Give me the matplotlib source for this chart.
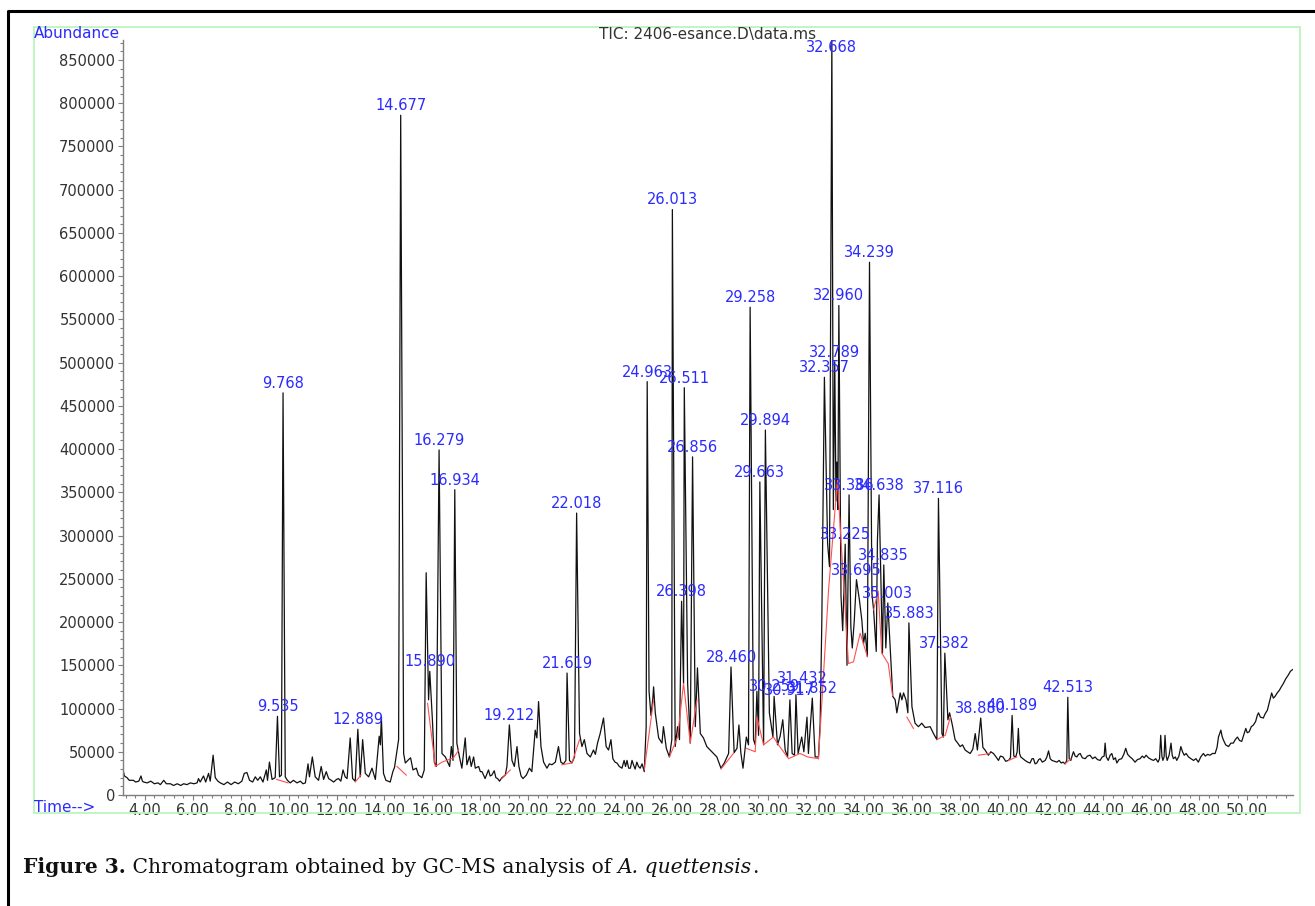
import matplotlib
matplotlib.use("Agg")
import matplotlib.pyplot as plt
from matplotlib.ticker import MultipleLocator, FuncFormatter
from matplotlib.lines import Line2D
from matplotlib.patches import Rectangle

# TIC trace: (retention time in min, abundance in thousands)
trace_early = [
    (3.09, 29), (3.15, 22), (3.26, 20), (3.35, 17), (3.52, 17), (3.62, 15), (3.75, 16), (3.84, 22),
    (3.90, 16), (3.95, 15), (4.10, 14), (4.25, 16), (4.40, 13), (4.55, 14), (4.65, 12), (4.79, 17),
    (4.90, 13), (5.07, 13), (5.20, 11), (5.35, 13), (5.50, 11), (5.62, 13), (5.76, 12), (5.90, 14),
    (6.05, 13), (6.18, 14), (6.24, 19), (6.31, 15), (6.45, 22), (6.54, 15), (6.66, 25), (6.73, 16),
    (6.85, 46), (6.94, 20), (7.05, 16), (7.15, 14), (7.30, 12), (7.45, 15), (7.60, 12), (7.75, 15),
    (7.90, 13), (8.05, 16), (8.15, 25), (8.26, 26), (8.37, 17), (8.50, 15), (8.61, 21), (8.71, 17),
    (8.82, 21), (8.93, 15), (9.07, 29), (9.12, 17), (9.20, 38), (9.31, 18), (9.44, 20), (9.535, 91),
    (9.62, 21), (9.70, 23), (9.768, 465), (9.86, 21), (9.95, 17), (10.07, 14), (10.20, 17),
    (10.35, 14), (10.49, 16), (10.60, 13), (10.70, 14), (10.81, 36), (10.87, 21), (10.99, 44),
    (11.11, 21), (11.25, 17), (11.36, 33), (11.46, 18), (11.57, 27), (11.67, 19), (11.78, 17),
    (11.88, 15), (12.00, 18), (12.08, 19), (12.18, 16), (12.27, 29), (12.36, 21), (12.44, 19),
    (12.57, 66), (12.67, 19), (12.78, 16), (12.889, 76), (12.99, 21), (13.09, 64), (13.20, 25),
    (13.34, 21), (13.48, 31), (13.62, 18), (13.78, 68), (13.83, 58), (13.87, 90), (13.96, 25),
    (14.06, 17),
]
trace_mid = [
    (14.15, 16), (14.24, 15), (14.35, 27), (14.42, 32), (14.49, 45), (14.59, 64), (14.677, 786),
    (14.80, 48), (14.87, 37), (15.01, 41), (15.09, 43), (15.19, 29), (15.33, 31), (15.42, 23),
    (15.56, 20), (15.66, 29), (15.74, 257), (15.84, 110), (15.89, 143), (16.00, 87), (16.08, 38),
    (16.16, 33), (16.279, 399), (16.40, 48), (16.54, 44), (16.72, 33), (16.79, 56), (16.86, 40),
    (16.934, 353), (17.02, 60), (17.13, 44), (17.23, 31), (17.37, 66), (17.44, 35), (17.55, 45),
    (17.62, 33), (17.72, 44), (17.79, 31), (17.93, 33), (18.00, 27), (18.07, 27), (18.20, 19),
    (18.34, 29), (18.41, 22), (18.48, 23), (18.58, 28), (18.65, 20), (18.72, 19), (18.80, 16),
    (18.90, 20), (19.04, 23), (19.11, 33), (19.212, 81), (19.32, 40), (19.42, 33), (19.53, 56),
    (19.61, 33), (19.70, 22), (19.78, 19), (19.92, 23), (20.05, 31), (20.15, 27), (20.29, 75),
    (20.36, 66), (20.43, 108), (20.53, 56), (20.64, 38), (20.78, 31), (20.88, 36), (20.99, 35),
    (21.13, 38), (21.26, 56), (21.36, 38), (21.47, 36), (21.57, 40), (21.619, 141), (21.72, 40),
    (21.82, 37), (21.93, 44), (22.018, 326), (22.14, 71), (22.24, 56), (22.34, 64), (22.45, 48),
    (22.59, 44), (22.72, 52), (22.80, 47), (22.89, 60), (23.00, 71), (23.14, 89), (23.25, 56),
    (23.35, 52), (23.45, 64), (23.53, 42), (23.62, 38), (23.70, 37), (23.80, 33), (23.91, 31),
    (24.00, 40), (24.06, 33), (24.12, 40), (24.19, 31), (24.26, 31), (24.33, 40), (24.39, 35),
    (24.46, 30), (24.53, 38), (24.60, 33), (24.67, 31), (24.75, 36), (24.84, 27),
]
trace_late = [
    (24.92, 79), (24.963, 478), (25.04, 120), (25.12, 92), (25.20, 112), (25.23, 125), (25.30, 95),
    (25.44, 66), (25.58, 60),
    (25.64, 79), (25.76, 54), (25.89, 44), (25.99, 64), (26.013, 677), (26.13, 56), (26.23, 79),
    (26.31, 64), (26.398, 224), (26.48, 129), (26.511, 471), (26.65, 129), (26.76, 60),
    (26.856, 391), (26.97, 79), (27.06, 147), (27.18, 71), (27.31, 66), (27.45, 56), (27.59, 52),
    (27.73, 48), (27.87, 44), (27.95, 38), (28.04, 31), (28.18, 37), (28.36, 48), (28.46, 148),
    (28.59, 49), (28.71, 54), (28.79, 81), (28.87, 49), (28.96, 31), (29.10, 67), (29.19, 58),
    (29.258, 564), (29.40, 64), (29.47, 58), (29.54, 120), (29.61, 69), (29.663, 362), (29.82, 58),
    (29.894, 422), (30.06, 95), (30.21, 67), (30.259, 114), (30.40, 58), (30.51, 68), (30.62, 87),
    (30.72, 52), (30.82, 44), (30.917, 110), (31.01, 48), (31.11, 46), (31.17, 116), (31.26, 48),
    (31.41, 67), (31.50, 50), (31.63, 90), (31.69, 48), (31.852, 112), (31.97, 44), (32.11, 44),
    (32.18, 83), (32.25, 202), (32.30, 330), (32.357, 483), (32.49, 291), (32.57, 264),
    (32.668, 873), (32.73, 330), (32.789, 501), (32.84, 340), (32.88, 385), (32.92, 330),
    (32.96, 566), (33.05, 230), (33.12, 190), (33.225, 290), (33.30, 150), (33.386, 347),
    (33.46, 195), (33.52, 170), (33.60, 200), (33.695, 249), (33.82, 225), (33.92, 202),
    (33.99, 175), (34.06, 187), (34.15, 160), (34.239, 616), (34.34, 233), (34.41, 214),
    (34.52, 166), (34.57, 295), (34.638, 347), (34.72, 241), (34.78, 164), (34.835, 266),
    (34.92, 170), (35.003, 222), (35.13, 156), (35.21, 114), (35.31, 110), (35.38, 95),
    (35.52, 118), (35.59, 110), (35.66, 118), (35.76, 110), (35.84, 95), (35.883, 199),
    (36.01, 102), (36.14, 83), (36.28, 79), (36.42, 83), (36.56, 78), (36.77, 79), (36.91, 71),
    (37.05, 64), (37.116, 343), (37.26, 71), (37.32, 67), (37.382, 164), (37.51, 87), (37.58, 95),
    (37.68, 83), (37.81, 64), (37.92, 60), (38.02, 56), (38.12, 58), (38.23, 52), (38.33, 50),
    (38.44, 48), (38.55, 53), (38.65, 71), (38.74, 52), (38.88, 89), (38.97, 55),
]
trace_tail = [
    (39.06, 52), (39.20, 46), (39.30, 50), (39.41, 48), (39.52, 44), (39.62, 40), (39.70, 45),
    (39.81, 44), (39.92, 39), (40.04, 40), (40.12, 43), (40.189, 92), (40.26, 45), (40.34, 44),
    (40.40, 50), (40.45, 77), (40.50, 48), (40.55, 44), (40.64, 42), (40.73, 40), (40.84, 38),
    (40.94, 37), (41.02, 42), (41.08, 42), (41.15, 36), (41.22, 37), (41.30, 41), (41.36, 42),
    (41.45, 38), (41.57, 40), (41.64, 44), (41.71, 51), (41.78, 42), (41.85, 40), (41.95, 39),
    (42.06, 38), (42.15, 40), (42.24, 37), (42.32, 38), (42.40, 36), (42.47, 40), (42.513, 113),
    (42.57, 42), (42.64, 40), (42.70, 46), (42.75, 50), (42.82, 45), (42.89, 44), (42.96, 47),
    (43.03, 48), (43.12, 43), (43.24, 42), (43.33, 45), (43.44, 46), (43.55, 42), (43.65, 44),
    (43.75, 41), (43.86, 40), (43.95, 44), (44.03, 45), (44.07, 60), (44.12, 44), (44.20, 40),
    (44.28, 46), (44.35, 48), (44.42, 41), (44.50, 43), (44.56, 37), (44.65, 41), (44.76, 42),
    (44.85, 47), (44.93, 54), (45.01, 47), (45.11, 44), (45.20, 42), (45.32, 38), (45.42, 41),
    (45.53, 42), (45.62, 45), (45.70, 43), (45.78, 46), (45.88, 43), (46.00, 41), (46.09, 40),
    (46.18, 42), (46.28, 38), (46.34, 42), (46.39, 69), (46.44, 45), (46.48, 40), (46.53, 44),
    (46.57, 69), (46.62, 45), (46.66, 40), (46.74, 46), (46.82, 60), (46.87, 46), (46.92, 42),
    (47.00, 44), (47.06, 40), (47.15, 45), (47.23, 56), (47.30, 50), (47.37, 46), (47.45, 48),
    (47.55, 44), (47.65, 42), (47.76, 40), (47.86, 42), (47.96, 38), (48.06, 44), (48.17, 48),
    (48.25, 45), (48.35, 47), (48.45, 46), (48.55, 48), (48.66, 48), (48.74, 55), (48.80, 67),
    (48.90, 75), (48.95, 68), (49.00, 64), (49.10, 58), (49.22, 56), (49.32, 60), (49.42, 60),
    (49.50, 64), (49.59, 67), (49.68, 63), (49.77, 62), (49.86, 70), (49.94, 77), (50.00, 72),
    (50.08, 73), (50.17, 79), (50.26, 81), (50.35, 85), (50.42, 92), (50.47, 95), (50.55, 90),
    (50.67, 89), (50.75, 94), (50.84, 98), (50.93, 108), (51.02, 118), (51.09, 112), (51.16, 114),
    (51.25, 118), (51.34, 121), (51.42, 125), (51.51, 129), (51.60, 134), (51.72, 139),
    (51.80, 143), (51.89, 145),
]

# integration baselines (red)
baseline_segments = [
    [(9.50, 18), (9.98, 14)],
    [(12.78, 15), (13.02, 23)],
    [(14.52, 33), (14.91, 23)],
    [(15.80, 106), (16.12, 33), (16.40, 38), (16.88, 43), (17.10, 52)],
    [(18.90, 19), (19.25, 29)],
    [(21.40, 35), (21.82, 37), (22.14, 64)],
    [(24.84, 29), (25.23, 110)],
    [(25.89, 44), (26.23, 67), (26.48, 129), (26.76, 60), (27.04, 110)],
    [(28.04, 30), (28.56, 48)],
    [(29.10, 54), (29.47, 50), (29.54, 90), (29.82, 58), (30.23, 67), (30.44, 58), (30.86, 42),
     (31.34, 48), (31.66, 44), (32.11, 42)],
    [(32.11, 42), (32.53, 237), (32.90, 364), (33.36, 152), (33.57, 154), (33.85, 187), (34.15, 160)],
    [(34.41, 214), (34.60, 236), (34.75, 164), (35.02, 152), (35.20, 115)],
    [(35.80, 90), (36.07, 77)],
    [(37.05, 64), (37.40, 69), (37.61, 90)],
    [(38.79, 46), (39.27, 48)],
    [(40.04, 40), (40.38, 44)],
    [(42.40, 36), (42.64, 42)],
]

peak_labels = ['9.535', '9.768', '12.889', '14.677', '15.890', '16.279', '16.934', '19.212',
               '21.619', '22.018', '24.963', '26.013', '26.398', '26.511', '26.856', '28.460',
               '29.258', '29.663', '29.894', '30.259', '30.917', '31.432', '31.852', '32.357',
               '32.668', '32.789', '32.960', '33.225', '33.386', '33.695', '34.239', '34.638',
               '34.835', '35.003', '35.883', '37.116', '37.382', '38.880', '40.189', '42.513']
label_heights_k = [91, 465, 76, 786, 143, 399, 353, 81, 141, 326,
                   478, 677, 224, 471, 391, 148, 564, 362, 422, 114,
                   110, 124, 112, 483, 873, 501, 566, 290, 347, 249,
                   616, 347, 266, 222, 199, 343, 164, 89, 92, 113]

caption_parts = [("Figure 3.", "bold", "normal"),
                 (" Chromatogram obtained by GC-MS analysis of ", "normal", "normal"),
                 ("A. quettensis", "normal", "italic"),
                 (".", "normal", "normal")]

W, H = 1315, 906
BLUE = '#2b2bff'
GREY = '#7f7f7f'

def fx(px):
    return px / W

def fy(py):
    return 1 - py / H

fig = plt.figure(figsize=(W / 100, H / 100), dpi=100)
ax = fig.add_axes([fx(123), fy(795), fx(1293) - fx(123), fy(40) - fy(795)])

trace = trace_early + trace_mid + trace_late + trace_tail
ax.plot([p[0] for p in trace], [p[1] * 1000 for p in trace], color='#111111', lw=0.9)
for seg in baseline_segments:
    ax.plot([p[0] for p in seg], [p[1] * 1000 for p in seg], color='#ff5050', lw=0.8)

ymax = 873000
ax.set_xlim(3.09, 51.91)
ax.set_ylim(0, ymax)

for side in ['top', 'right']:
    ax.spines[side].set_visible(False)
for side in ['left', 'bottom']:
    ax.spines[side].set_color(GREY)
    ax.spines[side].set_linewidth(1.0)

ax.yaxis.set_major_locator(MultipleLocator(50000))
ax.yaxis.set_minor_locator(MultipleLocator(10000))
ax.yaxis.set_major_formatter(FuncFormatter(lambda v, p: f"{int(round(v))}"))
ax.xaxis.set_major_locator(MultipleLocator(2))
ax.xaxis.set_minor_locator(MultipleLocator(0.4))
ax.xaxis.set_major_formatter(FuncFormatter(lambda v, p: f"{v:.2f}"))
ax.tick_params(which='both', direction='out', color=GREY, width=0.8)
ax.tick_params(which='major', length=3.5, labelsize=10.5, labelcolor='#333333', pad=2)
ax.tick_params(which='minor', length=2.5)

for lab, h in zip(peak_labels, label_heights_k):
    t = float(lab)
    if h * 1000 > ymax - 20000:
        ax.text(t, ymax, lab, color=BLUE, fontsize=10.5, ha='center', va='top', clip_on=False)
    else:
        ax.annotate(lab, (t, h * 1000), xytext=(0, 1.5), textcoords='offset points',
                    color=BLUE, fontsize=10.5, ha='center', va='bottom')

fig.text(fx(34), fy(34), 'Abundance', color=BLUE, fontsize=11, ha='left', va='center')
fig.text(fx(708), fy(34), 'TIC: 2406-esance.D\\data.ms', color='#333333', fontsize=11,
         ha='center', va='center')
fig.text(fx(34), fy(807), 'Time-->', color=BLUE, fontsize=11, ha='left', va='center')

# light green frame round the plot, black frame of the figure panel
fig.add_artist(Rectangle((fx(34), fy(813)), fx(1300) - fx(34), fy(27) - fy(813), fill=False,
                         ec='#bdf5bd', lw=1.3, transform=fig.transFigure))
fig.add_artist(Line2D([fx(8), fx(8), 1.01], [-0.01, fy(11), fy(11)], color='black', lw=2.2,
                      transform=fig.transFigure))

# caption, pieces placed one after another
renderer = fig.canvas.get_renderer()
x = fx(23)
for s, weight, style in caption_parts:
    txt = fig.text(x, fy(873), s, fontsize=14.6, family='DejaVu Serif', weight=weight,
                   style=style, ha='left', va='baseline', color='#111111')
    bb = txt.get_window_extent(renderer)
    x = bb.x1 / W

fig.savefig('out.png', dpi=100)
